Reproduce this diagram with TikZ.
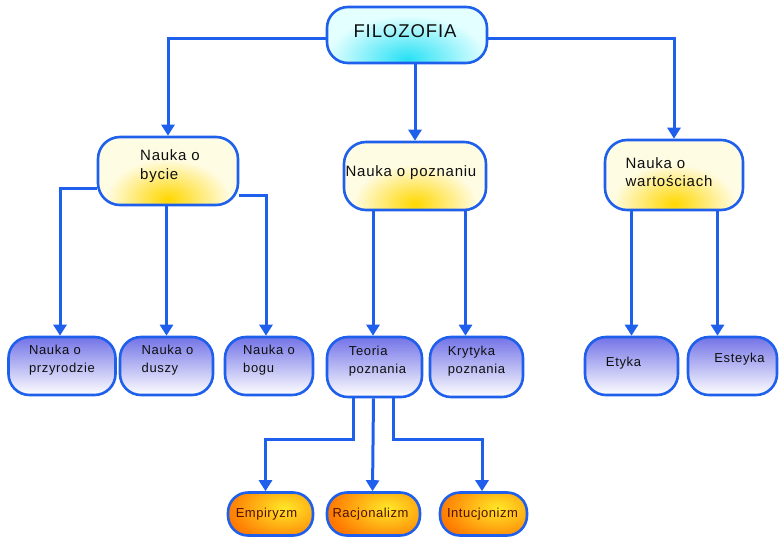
\documentclass[tikz,border=0pt]{standalone}
\usepackage{fontspec}
\setmainfont{Liberation Sans}
\usetikzlibrary{arrows.meta}
\definecolor{bl}{RGB}{30,95,235}
\definecolor{ylight}{RGB}{255,252,228}
\definecolor{ybright}{RGB}{255,215,0}
\definecolor{clight}{RGB}{228,255,255}
\definecolor{cbright}{RGB}{40,225,245}
\definecolor{lav}{RGB}{115,115,232}
\definecolor{lavlight}{RGB}{222,222,250}
\definecolor{orng}{RGB}{255,118,0}
\definecolor{oyel}{RGB}{255,232,40}
\definecolor{otxt}{RGB}{80,16,0}
\definecolor{txt}{RGB}{15,15,15}
\begin{document}
\begin{tikzpicture}[x=1pt,y=-1pt,
  basebox/.style={draw=bl, line width=2.6pt, inner sep=0pt},
  cbox/.style={basebox, rounded corners=21pt,
    path picture={\fill[clight] (path picture bounding box.south west) rectangle (path picture bounding box.north east);
      \shade[inner color=cbright, outer color=clight] ([yshift=4pt]path picture bounding box.south) ellipse (80pt and 44pt);}},
  ybox/.style={basebox, rounded corners=22pt,
    path picture={\fill[ylight] (path picture bounding box.south west) rectangle (path picture bounding box.north east);
      \shade[inner color=ybright, outer color=ylight] ([yshift=6pt]path picture bounding box.south) ellipse (62pt and 40pt);}},
  bbox/.style={basebox, rounded corners=21pt,
    path picture={\shade[top color=lav, middle color=lavlight, bottom color=white] (path picture bounding box.south west) rectangle (path picture bounding box.north east);}},
  obox/.style={basebox, rounded corners=20pt,
    path picture={\fill[orng] (path picture bounding box.south west) rectangle (path picture bounding box.north east);
      \shade[inner color=oyel, outer color=orng] ([xshift=14pt,yshift=6pt]path picture bounding box.center) ellipse (60pt and 36pt);}},
  conn/.style={draw=bl, line width=3pt},
  arr/.style={conn, -{Triangle[width=13pt,length=11pt]}},
  ctxt/.style={inner sep=0pt, align=left, text=txt, font=\fontsize{18.5}{22}\selectfont\addfontfeature{LetterSpace=5}},
  mtxt/.style={inner sep=0pt, align=left, text=txt, font=\fontsize{15}{18.5}\selectfont\addfontfeature{LetterSpace=5}},
  btxt/.style={inner sep=0pt, align=left, text=txt, font=\fontsize{13}{17.5}\selectfont\addfontfeature{LetterSpace=5}},
  otxtst/.style={inner sep=0pt, align=left, text=otxt, font=\fontsize{13}{15}\selectfont\addfontfeature{LetterSpace=4}},
]
\useasboundingbox (0,0) rectangle (779,538);

% boxes
\node[cbox, minimum width=160pt, minimum height=56pt] (filo) at (407,35) {};
\node[ybox, minimum width=140pt, minimum height=68pt] (bycie) at (168,171) {};
\node[ybox, minimum width=142pt, minimum height=68pt] (pozn) at (415,176) {};
\node[ybox, minimum width=138pt, minimum height=70pt] (wart) at (674,175) {};

\node[bbox, minimum width=107pt, minimum height=58pt] (przy) at (62,366) {};
\node[bbox, minimum width=93pt, minimum height=58pt] (dusz) at (166.5,366) {};
\node[bbox, minimum width=88pt, minimum height=58pt] (bogu) at (269,366) {};
\node[bbox, minimum width=95pt, minimum height=60pt] (teor) at (374.5,367) {};
\node[bbox, minimum width=93pt, minimum height=60pt] (kryt) at (476.5,367) {};
\node[bbox, minimum width=93pt, minimum height=58pt] (etyk) at (631.5,366) {};
\node[bbox, minimum width=89pt, minimum height=58pt] (este) at (732.5,366) {};

\node[obox, minimum width=85pt, minimum height=43pt] (empi) at (270.5,514) {};
\node[obox, minimum width=93pt, minimum height=43pt] (racj) at (373.5,514) {};
\node[obox, minimum width=87pt, minimum height=43pt] (intu) at (483.5,514) {};

% texts
\node[ctxt] (filoT) at ([xshift=-2pt,yshift=4pt]filo.center) {FILOZOFIA};
\node[mtxt] (bycieT) at ([xshift=2pt,yshift=5pt]bycie.center) {Nauka o\\bycie};
\node[mtxt] (poznT) at ([xshift=-4pt,yshift=3pt]pozn.center) {Nauka o poznaniu};
\node[mtxt] (wartT) at ([xshift=-5pt,yshift=3pt]wart.center) {Nauka o\\wartościach};

\node[btxt] (przyT) at ([yshift=6pt]przy.center) {Nauka o\\przyrodzie};
\node[btxt] (duszT) at ([xshift=1pt,yshift=6pt]dusz.center) {Nauka o\\duszy};
\node[btxt] (boguT) at ([yshift=6pt]bogu.center) {Nauka o\\bogu};
\node[btxt] (teorT) at ([xshift=3pt,yshift=6pt]teor.center) {Teoria\\poznania};
\node[btxt] (krytT) at ([yshift=6pt]kryt.center) {Krytyka\\poznania};
\node[btxt] (etykT) at ([xshift=-8pt,yshift=3pt]etyk.center) {Etyka};
\node[btxt] (esteT) at ([xshift=7pt,yshift=7pt]este.center) {Esteyka};

\node[otxtst] (empiT) at ([xshift=-4pt]empi.center) {Empiryzm};
\node[otxtst] (racjT) at ([xshift=-3pt]racj.center) {Racjonalizm};
\node[otxtst] (intuT) at ([xshift=-1pt]intu.center) {Intucjonizm};

% connectors from FILOZOFIA
\draw[arr] ([yshift=-3pt]filo.west) -| (bycie.north);
\draw[arr] ([yshift=-3pt]filo.east) -| (wart.north);
\draw[arr] (pozn.north |- filo.south) -- (pozn.north);

% from Nauka o bycie
\draw[arr] ([yshift=-17pt]bycie.west) -| ([xshift=-2pt]przy.north);
\draw[arr] (dusz.north |- bycie.south) -- (dusz.north);
\draw[arr] ([yshift=-24pt]bycie.east) -| ([xshift=-3pt]bogu.north);

% from Nauka o poznaniu
\draw[arr] ([xshift=-1.5pt]teor.north |- pozn.south) -- ([xshift=-1.5pt]teor.north);
\draw[arr] ([xshift=-11pt]kryt.north |- pozn.south) -- ([xshift=-11pt]kryt.north);

% from Nauka o wartosciach
\draw[arr] (etyk.north |- wart.south) -- (etyk.north);
\draw[arr] ([xshift=-15pt]este.north |- wart.south) -- ([xshift=-15pt]este.north);

% from Teoria poznania
\coordinate (tl) at ([xshift=-21pt]teor.south);
\coordinate (tr) at ([xshift=19pt]teor.south);
\draw[arr] (tl) -- ([yshift=-41pt]tl) -| ([xshift=-5pt]empi.north);
\draw[arr] ([xshift=-1pt]teor.south) -- ([xshift=-1pt]racj.north);
\draw[arr] (tr) -- ([yshift=-41pt]tr) -| ([xshift=-1.5pt]intu.north);
\end{tikzpicture}
\end{document}
